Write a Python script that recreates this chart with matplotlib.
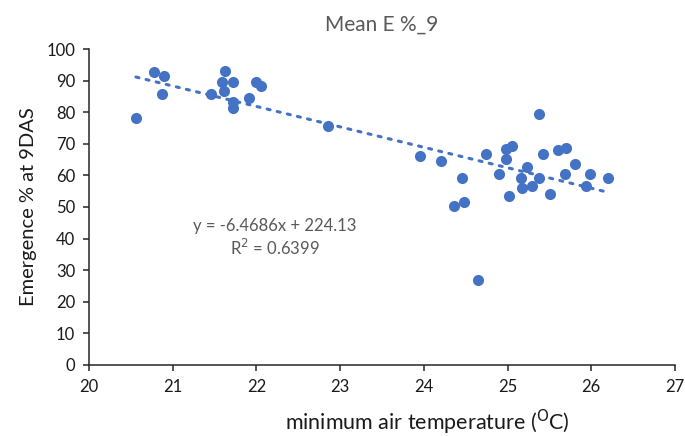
import matplotlib
matplotlib.use("Agg")
import matplotlib.pyplot as plt
import numpy as np

# minimum air temperature (deg C) and emergence % at 9 DAS
temp_c = [20.56, 20.78, 20.90, 20.87, 21.46, 21.62, 21.59, 21.72, 21.61, 21.72,
          21.72, 21.91, 22.00, 22.05, 22.85, 23.95, 24.21, 24.45, 24.36, 24.48,
          24.65, 24.74, 24.98, 25.05, 24.98, 24.90, 25.23, 25.16, 25.17, 25.29,
          25.38, 25.02, 25.51, 25.42, 25.37, 25.60, 25.70, 25.81, 25.68, 25.98,
          25.94, 26.20]
emergence = [78.3, 92.6, 91.4, 85.9, 85.9, 93.1, 89.7, 89.7, 86.8, 83.2,
             81.3, 84.4, 89.5, 88.3, 75.5, 66.1, 64.5, 59.3, 50.4, 51.5,
             27.0, 66.7, 68.3, 69.2, 65.3, 60.5, 62.8, 59.3, 56.0, 56.7,
             59.1, 53.5, 54.1, 66.7, 79.5, 67.9, 68.6, 63.6, 60.3, 60.3,
             56.6, 59.3]

# trend line as printed on the chart
slope = -6.4686
intercept = 224.13
r_squared = 0.6399

x_ticks = [20, 21, 22, 23, 24, 25, 26, 27]
y_ticks = list(range(0, 101, 10))

plt.rcParams['font.family'] = ['Lato', 'DejaVu Sans']

fig = plt.figure(figsize=(6.85, 4.36), dpi=100)
ax = fig.add_axes([0.13, 0.163, 0.8554, 0.7246])

blue = '#4472C4'
grey = '#595959'

ax.scatter(temp_c, emergence, s=64, color=blue, zorder=3, linewidths=0)

x_fit = np.array([min(temp_c), max(temp_c)])
ax.plot(x_fit, slope * x_fit + intercept, color=blue, linestyle=(0, (1, 2.4)),
        linewidth=2.2, dash_capstyle='round', zorder=2)

ax.set_xlim(20, 27)
ax.set_ylim(0, 100)
ax.set_xticks(x_ticks)
ax.set_yticks(y_ticks)
ax.tick_params(labelsize=12, length=4, width=1.1, color='#262626',
               labelcolor='#1a1a1a', pad=6)

for side in ['top', 'right']:
    ax.spines[side].set_visible(False)
for side in ['left', 'bottom']:
    ax.spines[side].set_color('#262626')
    ax.spines[side].set_linewidth(1.1)

ax.set_title('Mean E %_9', fontsize=15, color=grey, pad=13)
ax.set_xlabel('minimum air temperature ($^{\\mathrm{O}}$C)', fontsize=15.5,
              color='#1a1a1a', va='center')
ax.xaxis.set_label_coords(0.578, -0.183)
ax.set_ylabel('Emergence % at 9DAS', fontsize=14.5, color='#1a1a1a', labelpad=7)

ax.text(22.22, 44.0, f'y = {slope}x + {intercept}', fontsize=12, color=grey,
        ha='center', va='center')
ax.text(22.22, 37.0, f'R$^2$ = {r_squared}', fontsize=12, color=grey,
        ha='center', va='center')

fig.savefig('out.png', dpi=100)
